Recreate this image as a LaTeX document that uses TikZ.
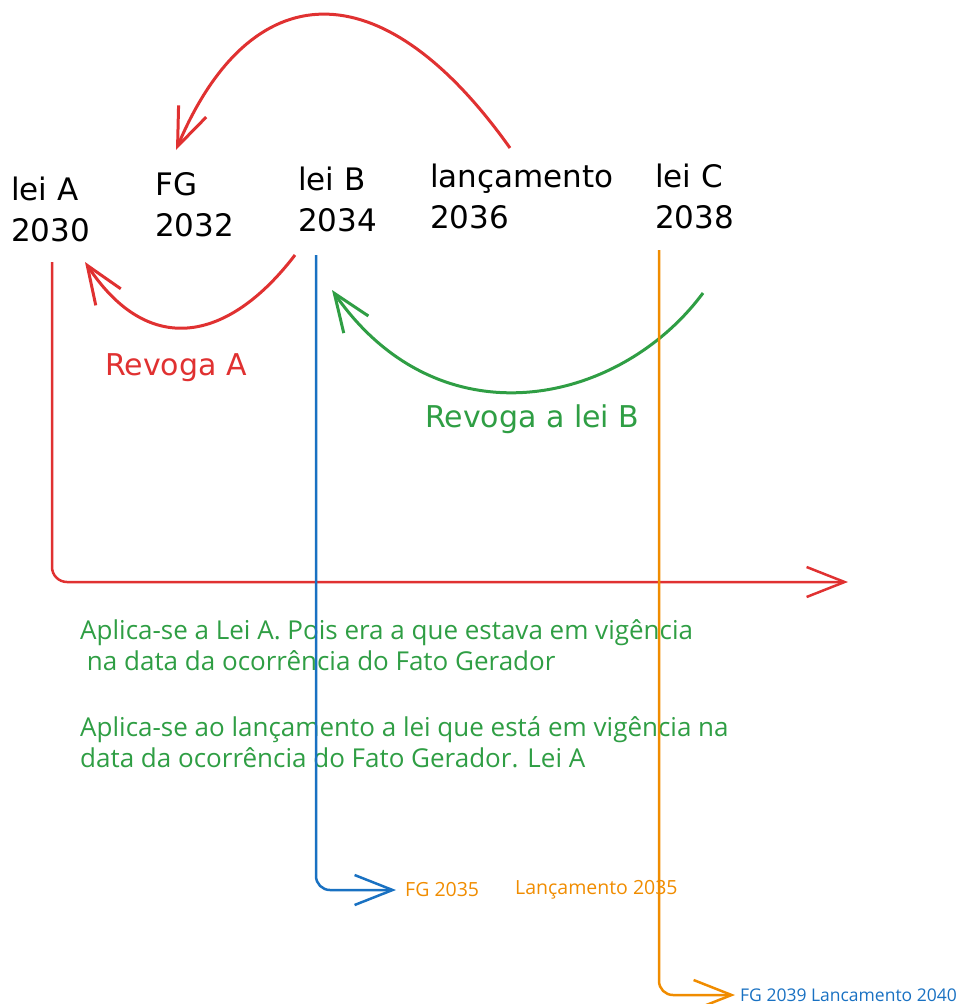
\documentclass[tikz,border=0pt]{standalone}
\usepackage{fontspec}
\setmainfont{Open Sans}
\newfontfamily\handfont{DejaVu Sans}
\usepackage{tikz}
\usetikzlibrary{arrows.meta}
\definecolor{exred}{HTML}{E03131}
\definecolor{exgreen}{HTML}{2F9E44}
\definecolor{exblue}{HTML}{1971C2}
\definecolor{exorange}{HTML}{F08C00}

\begin{document}
\begin{tikzpicture}[x=1pt,y=-1pt,
		lbl/.style={anchor=north west, align=left, inner sep=0pt, font=\handfont\fontsize{31}{41}\selectfont},
		hand/.style={anchor=west, inner sep=0pt, font=\handfont\fontsize{30}{32}\selectfont},
		note/.style={anchor=west, inner sep=0pt, font=\fontsize{19.5}{22}\selectfont},
		barb/.style={-{Straight Barb[length=38pt,width=30pt]}}]
				
				\useasboundingbox (0,0) rectangle (961,1004);
				
				% years
				\node[lbl] (A) at (11,177) {lei A\\2030};
				\node[lbl] (FG) at (155,172) {FG\\2032};
				\node[lbl] (B) at (298,167) {lei B\\2034};
				\node[lbl] (L) at (430,164) {lançamento\\2036};
				\node[lbl] (C) at (655,164) {lei C\\2038};
				
				\node[hand, text=exred] (RA) at (105,368) {Revoga A};
				\node[hand, text=exgreen] (RB) at (425,419) {Revoga a lei B};
				
				\node[anchor=north west, align=left, inner sep=0pt, text=exgreen, font=\fontsize{26}{31}\selectfont] (T) at (80,619)
				{Aplica-se a Lei A. Pois era a que estava em vigência\\\ na data da ocorrência do Fato Gerador\\[35pt]Aplica-se ao lançamento a lei que está em vigência na\\data da ocorrência do Fato Gerador. Lei A};
				
				\node[note, text=exorange] (FGb) at (405,890) {FG 2035};
				\node[note, text=exorange] (Lb) at (515,890) {Lançamento 2035};
				\node[note, text=exblue, font=\fontsize{17.5}{20}\selectfont] (FGc) at (740,995) {FG 2039 Lancamento 2040};
				
				% free ends
				\coordinate (Ltop) at (510,148);
				\coordinate (FGtop) at (176,150);
				\coordinate (Bbot) at (295,255);
				\coordinate (Abot) at (85,262);
				\coordinate (Cbot) at (703,293);
				\coordinate (Bmid) at (332,290);
				\coordinate (Aax) at (52,262);
				\coordinate (axEnd) at (848,582);
				\coordinate (Bln) at (316,255);
				\coordinate (Cln) at (659,250);
				
				% arcs
				\draw[exred, line width=3pt, barb] (Ltop) .. controls (380,-35) and (250,-25) .. (FGtop);
				\draw[exred, line width=3pt, barb] (Bbot) .. controls (230,340) and (150,360) .. (Abot);
				\draw[exgreen, line width=3pt, barb] (Cbot) .. controls (620,405) and (440,445) .. (Bmid);
				
				% axis and lines
				\draw[exred, line width=2.5pt, rounded corners=15pt, barb] (Aax) -- (52,582) -- (axEnd);
				\draw[exblue, line width=2.5pt, rounded corners=14pt, barb] (Bln) -- (316,890) -- ([xshift=-9pt]FGb.west);
				\draw[exorange, line width=2.5pt, rounded corners=14pt, barb] (Cln) -- (659,995) -- ([xshift=-5pt]FGc.west);
				
			\end{tikzpicture}
\end{document}
